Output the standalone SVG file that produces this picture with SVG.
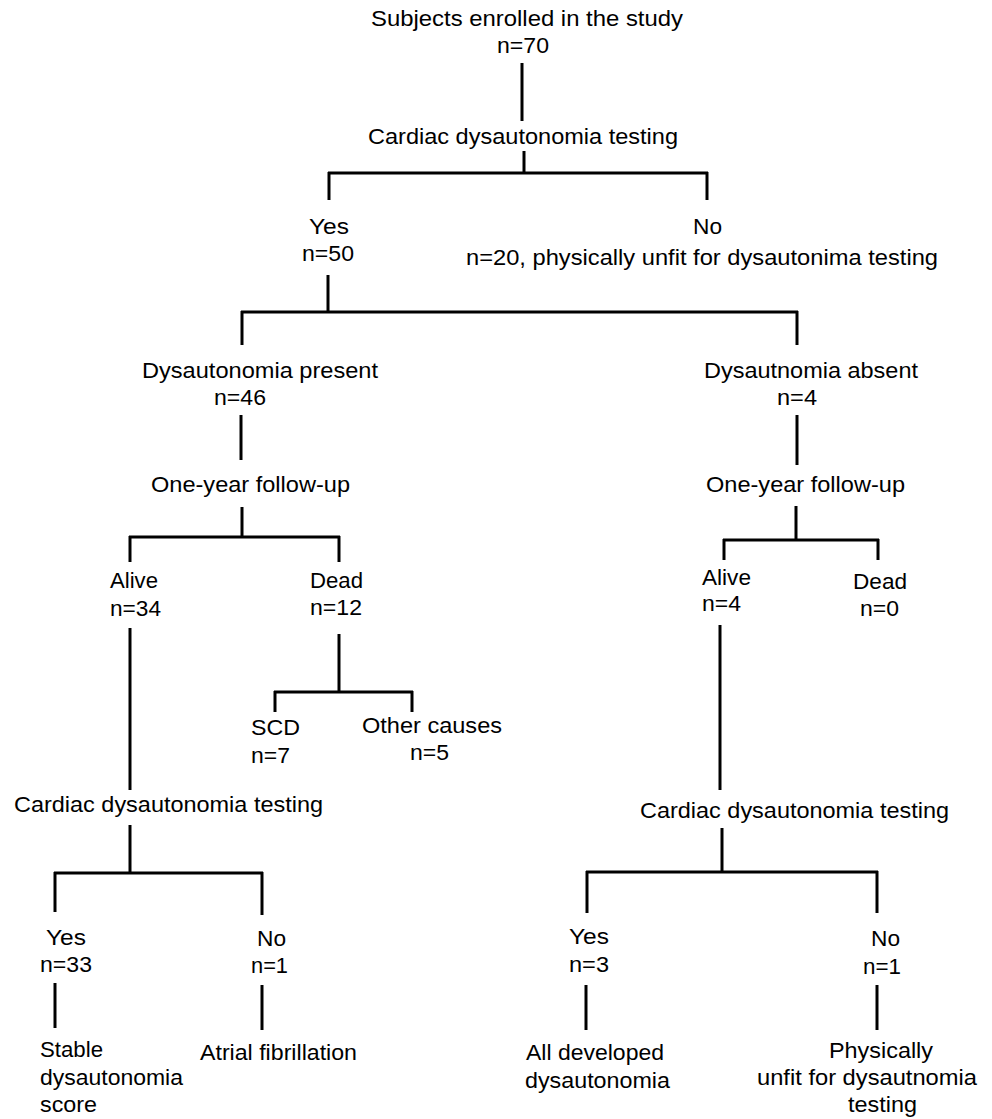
<svg xmlns="http://www.w3.org/2000/svg" width="992" height="1119" viewBox="0 0 992 1119">
<style>
text{font-family:"Liberation Sans",Arial,sans-serif;font-size:22px;fill:#000}
.c line{stroke:#000;stroke-width:3;fill:none}
</style>
<rect width="992" height="1119" fill="#fff"/>
<g class="c" id="connectors">
<line x1="522" y1="63" x2="522" y2="121"/>
<line x1="524" y1="151" x2="524" y2="173"/>
<line x1="328" y1="173" x2="708" y2="173"/>
<line x1="329" y1="172" x2="329" y2="200"/>
<line x1="707" y1="172" x2="707" y2="200"/>
<line x1="328" y1="275" x2="328" y2="312"/>
<line x1="241" y1="312" x2="798" y2="312"/>
<line x1="242" y1="311" x2="242" y2="345"/>
<line x1="797" y1="311" x2="797" y2="345"/>
<line x1="241" y1="415" x2="241" y2="460"/>
<line x1="242" y1="507" x2="242" y2="537"/>
<line x1="129" y1="537" x2="340" y2="537"/>
<line x1="130" y1="536" x2="130" y2="562"/>
<line x1="339" y1="536" x2="339" y2="562"/>
<line x1="797" y1="415" x2="797" y2="465"/>
<line x1="796" y1="506" x2="796" y2="540"/>
<line x1="723" y1="540" x2="879" y2="540"/>
<line x1="724" y1="539" x2="724" y2="560"/>
<line x1="878" y1="539" x2="878" y2="560"/>
<line x1="339" y1="634" x2="339" y2="692"/>
<line x1="274" y1="692" x2="413" y2="692"/>
<line x1="275" y1="691" x2="275" y2="712"/>
<line x1="412" y1="691" x2="412" y2="712"/>
<line x1="130" y1="628" x2="130" y2="790"/>
<line x1="130" y1="825" x2="130" y2="873"/>
<line x1="54" y1="873" x2="263" y2="873"/>
<line x1="55" y1="872" x2="55" y2="912"/>
<line x1="262" y1="872" x2="262" y2="915"/>
<line x1="55" y1="983" x2="55" y2="1028"/>
<line x1="262" y1="985" x2="262" y2="1030"/>
<line x1="720" y1="625" x2="720" y2="790"/>
<line x1="722" y1="828" x2="722" y2="872"/>
<line x1="586" y1="872" x2="878" y2="872"/>
<line x1="587" y1="871" x2="587" y2="913"/>
<line x1="877" y1="871" x2="877" y2="913"/>
<line x1="586" y1="985" x2="586" y2="1030"/>
<line x1="877" y1="985" x2="877" y2="1030"/>
</g>
<g id="n-enrolled"><text x="371" y="26" textLength="312" lengthAdjust="spacingAndGlyphs">Subjects enrolled in the study</text><text x="497" y="53" textLength="52" lengthAdjust="spacingAndGlyphs">n=70</text></g>
<g id="n-testing1"><text x="368" y="144" textLength="310" lengthAdjust="spacingAndGlyphs">Cardiac dysautonomia testing</text></g>
<g id="n-yes50"><text x="309" y="234" textLength="40" lengthAdjust="spacingAndGlyphs">Yes</text><text x="302" y="261" textLength="52" lengthAdjust="spacingAndGlyphs">n=50</text></g>
<g id="n-no20"><text x="693" y="234" textLength="29" lengthAdjust="spacingAndGlyphs">No</text><text x="466" y="265" textLength="472" lengthAdjust="spacingAndGlyphs">n=20, physically unfit for dysautonima testing</text></g>
<g id="n-present"><text x="142" y="378" textLength="236" lengthAdjust="spacingAndGlyphs">Dysautonomia present</text><text x="214" y="405" textLength="52" lengthAdjust="spacingAndGlyphs">n=46</text></g>
<g id="n-absent"><text x="704" y="378" textLength="214" lengthAdjust="spacingAndGlyphs">Dysautnomia absent</text><text x="777" y="405" textLength="40" lengthAdjust="spacingAndGlyphs">n=4</text></g>
<g id="n-fu1"><text x="151" y="492" textLength="199" lengthAdjust="spacingAndGlyphs">One-year follow-up</text></g>
<g id="n-fu2"><text x="706" y="492" textLength="199" lengthAdjust="spacingAndGlyphs">One-year follow-up</text></g>
<g id="n-alive34"><text x="110" y="588" textLength="48" lengthAdjust="spacingAndGlyphs">Alive</text><text x="110" y="616" textLength="51" lengthAdjust="spacingAndGlyphs">n=34</text></g>
<g id="n-dead12"><text x="310" y="588" textLength="53" lengthAdjust="spacingAndGlyphs">Dead</text><text x="310" y="615" textLength="52" lengthAdjust="spacingAndGlyphs">n=12</text></g>
<g id="n-alive4"><text x="702" y="585" textLength="49" lengthAdjust="spacingAndGlyphs">Alive</text><text x="702" y="611" textLength="39" lengthAdjust="spacingAndGlyphs">n=4</text></g>
<g id="n-dead0"><text x="853" y="589" textLength="54" lengthAdjust="spacingAndGlyphs">Dead</text><text x="860" y="616" textLength="39" lengthAdjust="spacingAndGlyphs">n=0</text></g>
<g id="n-scd"><text x="251" y="735" textLength="49" lengthAdjust="spacingAndGlyphs">SCD</text><text x="251" y="763" textLength="39" lengthAdjust="spacingAndGlyphs">n=7</text></g>
<g id="n-other"><text x="362" y="733" textLength="140" lengthAdjust="spacingAndGlyphs">Other causes</text><text x="410" y="760" textLength="39" lengthAdjust="spacingAndGlyphs">n=5</text></g>
<g id="n-testing2"><text x="14" y="812" textLength="309" lengthAdjust="spacingAndGlyphs">Cardiac dysautonomia testing</text></g>
<g id="n-testing3"><text x="640" y="818" textLength="309" lengthAdjust="spacingAndGlyphs">Cardiac dysautonomia testing</text></g>
<g id="n-yes33"><text x="46" y="945" textLength="40" lengthAdjust="spacingAndGlyphs">Yes</text><text x="40" y="972" textLength="52" lengthAdjust="spacingAndGlyphs">n=33</text></g>
<g id="n-no1a"><text x="257" y="946" textLength="29" lengthAdjust="spacingAndGlyphs">No</text><text x="251" y="973" textLength="37" lengthAdjust="spacingAndGlyphs">n=1</text></g>
<g id="n-yes3"><text x="569" y="944" textLength="40" lengthAdjust="spacingAndGlyphs">Yes</text><text x="569" y="972" textLength="40" lengthAdjust="spacingAndGlyphs">n=3</text></g>
<g id="n-no1b"><text x="871" y="946" textLength="29" lengthAdjust="spacingAndGlyphs">No</text><text x="863" y="974" textLength="38" lengthAdjust="spacingAndGlyphs">n=1</text></g>
<g id="n-stable"><text x="40" y="1057" textLength="63" lengthAdjust="spacingAndGlyphs">Stable</text><text x="40" y="1085" textLength="143" lengthAdjust="spacingAndGlyphs">dysautonomia</text><text x="40" y="1112" textLength="57" lengthAdjust="spacingAndGlyphs">score</text></g>
<g id="n-af"><text x="200" y="1060" textLength="157" lengthAdjust="spacingAndGlyphs">Atrial fibrillation</text></g>
<g id="n-alldev"><text x="526" y="1060" textLength="138" lengthAdjust="spacingAndGlyphs">All developed</text><text x="525" y="1088" textLength="145" lengthAdjust="spacingAndGlyphs">dysautonomia</text></g>
<g id="n-unfit"><text x="829" y="1058" textLength="104" lengthAdjust="spacingAndGlyphs">Physically</text><text x="757" y="1085" textLength="220" lengthAdjust="spacingAndGlyphs">unfit for dysautnomia</text><text x="848" y="1112" textLength="69" lengthAdjust="spacingAndGlyphs">testing</text></g>
</svg>
